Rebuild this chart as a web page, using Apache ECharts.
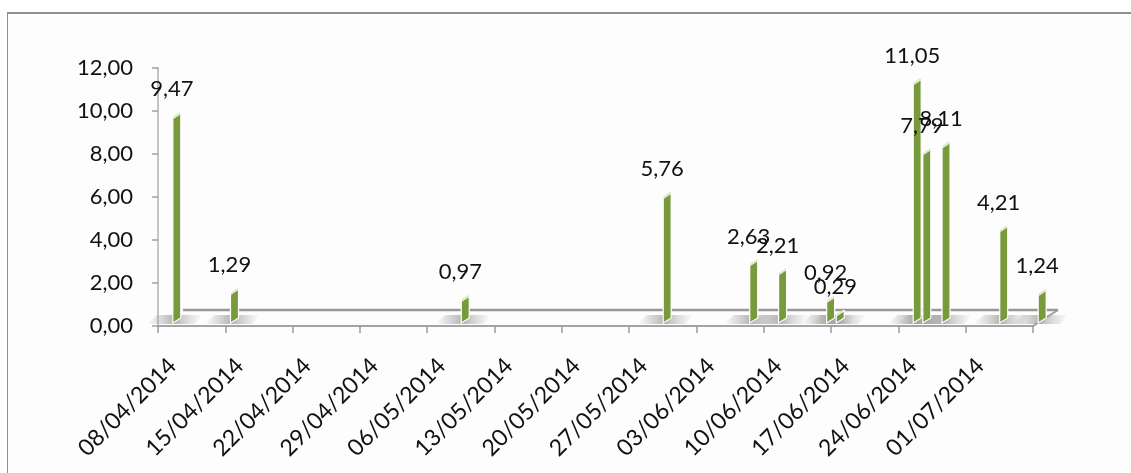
<!DOCTYPE html>
<html>
<head>
<meta charset="utf-8">
<script src="https://cdn.jsdelivr.net/npm/echarts@6/dist/echarts.min.js"></script>
<style>
  html, body { margin: 0; padding: 0; background: #ffffff; }
  #frame {
    position: absolute; left: 7px; top: 12px; width: 1300px; height: 600px;
    border-top: 2px solid #8f8f8f; border-left: 1px solid #8f8f8f;
    background: #fdfdfd;
  }
  #chart { position: absolute; left: 0; top: 0; width: 1131px; height: 473px; }
</style>
</head>
<body>
<div id="frame"></div>
<div id="chart"></div>
<script>
// Daily readings (dd/mm/yyyy) and their values
const dates = ['08/04/2014', '14/04/2014', '08/05/2014', '29/05/2014', '07/06/2014',
               '10/06/2014', '15/06/2014', '16/06/2014', '24/06/2014', '25/06/2014',
               '27/06/2014', '03/07/2014', '07/07/2014'];
const values = [9.47, 1.29, 0.97, 5.76, 2.63, 2.21, 0.92, 0.29, 11.05, 7.79, 8.11, 4.21, 1.24];

// Weekly date labels along the floor, and value labels up the side
const xTickLabels = ['08/04/2014', '15/04/2014', '22/04/2014', '29/04/2014', '06/05/2014',
                     '13/05/2014', '20/05/2014', '27/05/2014', '03/06/2014', '10/06/2014',
                     '17/06/2014', '24/06/2014', '01/07/2014'];
const yTickLabels = ['0,00', '2,00', '4,00', '6,00', '8,00', '10,00', '12,00'];

const startDate = '08/04/2014';
const dayCount = 91;      // 08/04/2014 .. 07/07/2014, one slot per day
const weekDays = 7;
const yMax = 12, yStep = 2;

const DAY_MS = 86400000;
function parseDay(s) {
  const [d, m, y] = s.split('/').map(Number);
  return Date.UTC(y, m - 1, d);
}
function dayIndex(s) {
  return Math.round((parseDay(s) - parseDay(startDate)) / DAY_MS);
}
function fmt(v) {
  return v.toFixed(2).replace('.', ',');
}

const barData = dates.map((d, i) => [dayIndex(d), values[i]]);

const FONT = 'Lato, "Open Sans", sans-serif';
const TEXT = '#111111';
const GREEN = '#789a3c';

const chart = echarts.init(document.getElementById('chart'), null, { renderer: 'canvas' });

// Floor of the 3D plot: front edge is the x axis, back edge sits behind it
function renderFloor(params) {
  const cs = params.coordSys;
  const fx0 = cs.x, fx1 = cs.x + cs.width, fy = cs.y + cs.height;
  const dx = 25, dy = 16;
  return {
    type: 'group',
    children: [
      { type: 'line', z2: 1,
        shape: { x1: fx0 + dx, y1: fy - dy, x2: fx1 + dx, y2: fy - dy },
        style: { stroke: '#979797', lineWidth: 2.5 } },
      { type: 'line', z2: 1,
        shape: { x1: fx1, y1: fy, x2: fx1 + dx, y2: fy - dy },
        style: { stroke: '#9c9c9c', lineWidth: 2 } }
    ]
  };
}

// One slanted column per reading, with its floor shadow and value label
function renderBar(params, api) {
  const idx = api.value(0), v = api.value(1);
  const p0 = api.coord([idx, 0]);
  const p1 = api.coord([idx, v]);
  const slot = api.size([1, 0])[0];
  const c = p0[0] + slot / 2 + 14;
  const x0 = c - 4, x1 = c + 4;
  const lb = p0[1] - 3, lt = p1[1] - 4;
  const rb = p0[1] - 8, rt = p1[1] - 9;
  const sy0 = p0[1] - 2, sy1 = p0[1] - 11;
  return {
    type: 'group',
    children: [
      { type: 'polygon', z2: 2,
        shape: { points: [[x0 - 26, sy0], [x1 + 14, sy0], [x1 + 22, sy1], [x0 - 16, sy1]] },
        style: {
          fill: new echarts.graphic.LinearGradient(0, 0, 1, 0, [
            { offset: 0, color: 'rgba(160,160,160,0)' },
            { offset: 0.5, color: 'rgba(145,145,145,0.7)' },
            { offset: 0.62, color: 'rgba(160,160,160,0.55)' },
            { offset: 1, color: 'rgba(180,180,180,0)' }
          ])
        } },
      { type: 'polygon', z2: 10,
        shape: { points: [[x0, lb], [x0, lt], [x1, rt], [x1, rb]] },
        style: { fill: GREEN, stroke: '#ffffff', lineWidth: 1.2 } },
      { type: 'line', z2: 11,
        shape: { x1: x0 + 0.5, y1: lt - 0.5, x2: x1 - 0.5, y2: rt - 0.5 },
        style: { stroke: '#dfe9c7', lineWidth: 2 } },
      { type: 'text', z2: 12,
        style: {
          text: fmt(v), x: c - 5, y: rt - 24,
          align: 'center', verticalAlign: 'middle',
          font: '22px ' + FONT, fill: TEXT
        } }
    ]
  };
}

chart.setOption({
  animation: false,
  backgroundColor: 'transparent',
  grid: [
    { left: 158, right: 98, top: 68, bottom: 147 },
    // date labels sit under the middle of the floor's depth
    { left: 172.5, right: 83.5, top: 68, bottom: 147 }
  ],
  xAxis: [
    {
      type: 'value', gridIndex: 0, min: 0, max: dayCount, interval: weekDays,
      axisLine: { show: true, lineStyle: { color: '#a3a3a3', width: 2 } },
      axisTick: { show: true, length: 7, lineStyle: { color: '#9a9a9a', width: 1.5 } },
      axisLabel: { show: false },
      splitLine: { show: false }
    },
    {
      type: 'value', gridIndex: 1, min: 0, max: dayCount, interval: weekDays,
      axisLine: { show: false }, axisTick: { show: false }, splitLine: { show: false },
      axisLabel: {
        show: true, rotate: 45, margin: 36,
        fontFamily: FONT, fontSize: 23, color: TEXT,
        formatter: v => xTickLabels[Math.round(v / weekDays)] || ''
      }
    }
  ],
  yAxis: [
    {
      type: 'value', gridIndex: 0, min: 0, max: yMax, interval: yStep,
      axisLine: { show: true, lineStyle: { color: '#c4c4c4', width: 2 } },
      axisTick: { show: true, length: 6, lineStyle: { color: '#a0a0a0', width: 1.5 } },
      splitLine: { show: false },
      axisLabel: {
        margin: 25, fontFamily: FONT, fontSize: 22, color: TEXT,
        formatter: v => yTickLabels[Math.round(v / yStep)]
      }
    },
    {
      type: 'value', gridIndex: 1, min: 0, max: yMax, show: false
    }
  ],
  series: [
    {
      type: 'custom', xAxisIndex: 0, yAxisIndex: 0, silent: true,
      data: [[0, 0]], renderItem: renderFloor, clip: false
    },
    {
      type: 'custom', xAxisIndex: 0, yAxisIndex: 0, silent: true,
      data: barData, renderItem: renderBar, clip: false
    }
  ]
});
</script>
</body>
</html>
